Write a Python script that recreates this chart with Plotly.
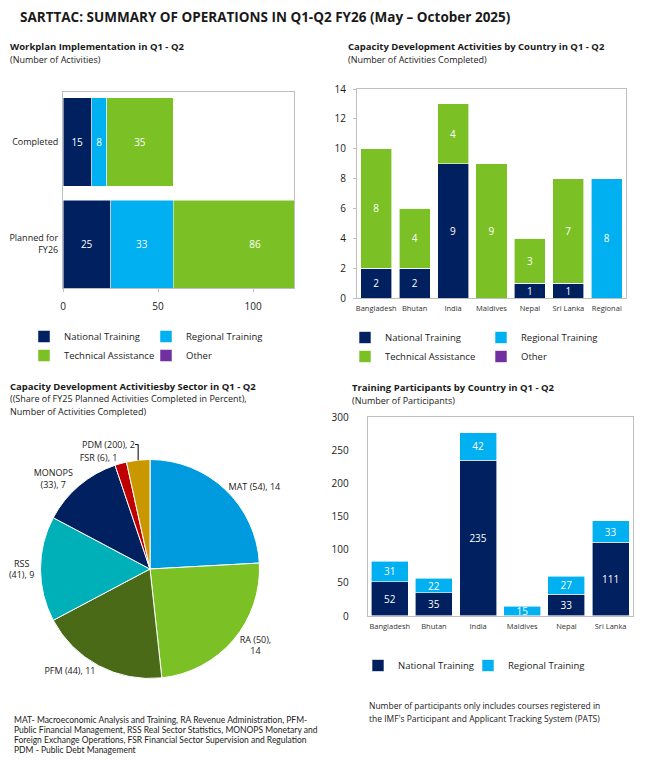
import plotly.graph_objects as go

# the page keeps its 8px body margin; the figure fills the rest of the 654x763 window
OFF = 8
FW, FH = 654 - 2 * OFF, 763 - 2 * OFF
def px(x):
    return (x - OFF) / FW
def py(y):
    return 1 - (y - OFF) / FH

NAVY = "#002060"
LBLUE = "#00B0F0"
GREEN = "#7BC125"
PURPLE = "#7030A0"
FONT = "Open Sans"
TXT = "#1a1a1a"

# ---- Data: Workplan implementation ----
wp_categories = ["Planned for<br>FY26", "Completed"]
wp_national = [25, 15]
wp_regional = [33, 8]
wp_ta = [86, 35]
wp_other = [0, 0]
wp_ticks = [0, 50, 100]

# ---- Data: CD activities by country ----
cd_countries = ["Bangladesh", "Bhutan", "India", "Maldives", "Nepal", "Sri Lanka", "Regional"]
cd_national = [2, 2, 9, 0, 1, 1, 0]
cd_regional = [0, 0, 0, 0, 0, 0, 8]
cd_ta = [8, 4, 4, 9, 3, 7, 0]
cd_other = [0, 0, 0, 0, 0, 0, 0]

# ---- Data: CD activities by sector ----
sec_names = ["MAT", "RA", "PFM", "RSS", "MONOPS", "FSR", "PDM"]
sec_share = [54, 50, 44, 41, 33, 6, 200]
sec_count = [14, 14, 11, 9, 7, 1, 2]
sec_colors = ["#009BDE", "#7BC125", "#4A6A17", "#00B0B9", "#002060", "#C00000", "#C99700"]
sec_sep1 = [" ", " ", " ", "<br>", "<br>", " ", " "]
sec_sep2 = [" ", "<br>", " ", " ", " ", " ", " "]

# ---- Data: Training participants ----
tp_countries = ["Bangladesh", "Bhutan", "India", "Maldives", "Nepal", "Sri Lanka"]
tp_national = [52, 35, 235, 0, 33, 111]
tp_regional = [31, 22, 42, 15, 27, 33]


def lab(vals):
    return [str(v) if v else "" for v in vals]


fig = go.Figure()

# Chart 1: horizontal stacked bars
for name, vals, col, lg, lw in [("National Training", wp_national, NAVY, "legend", 77),
                                ("Regional Training", wp_regional, LBLUE, "legend", 100),
                                ("Technical Assistance", wp_ta, GREEN, "legend2", 77),
                                ("Other", wp_other, PURPLE, "legend2", 60)]:
    fig.add_trace(go.Bar(
        x=vals, y=wp_categories, orientation="h", name=name, legend=lg, legendwidth=lw,
        marker=dict(color=col, line=dict(color="white", width=0.5)),
        width=0.863, text=lab(vals), textposition="inside",
        insidetextanchor="middle", textangle=0, constraintext="none",
        textfont=dict(color="white", size=10, family=FONT),
        xaxis="x", yaxis="y", hoverinfo="skip"))

# Chart 2: vertical stacked bars by country
for name, vals, col, lg, lw in [("National Training", cd_national, NAVY, "legend3", 91),
                                ("Regional Training", cd_regional, LBLUE, "legend3", 100),
                                ("Technical Assistance", cd_ta, GREEN, "legend4", 91),
                                ("Other", cd_other, PURPLE, "legend4", 60)]:
    fig.add_trace(go.Bar(
        x=cd_countries, y=vals, name=name, legend=lg, legendwidth=lw,
        marker=dict(color=col, line=dict(color="white", width=0.6)),
        width=0.81, text=lab(vals), textposition="inside",
        insidetextanchor="middle", textangle=0, constraintext="none",
        textfont=dict(color="white", size=10, family=FONT),
        xaxis="x2", yaxis="y2", hoverinfo="skip"))

# Chart 4: training participants
for name, vals, col, lw in [("National Training", tp_national, NAVY, 65),
                            ("Regional Training", tp_regional, LBLUE, 100)]:
    fig.add_trace(go.Bar(
        x=tp_countries, y=vals, name=name, legend="legend5", legendwidth=lw,
        marker=dict(color=col, line=dict(color="white", width=0.6)),
        width=0.837, text=lab(vals), textposition="inside",
        insidetextanchor="middle", textangle=0, constraintext="none",
        textfont=dict(color="white", size=10, family=FONT),
        xaxis="x3", yaxis="y3", hoverinfo="skip"))

# Chart 3: pie
pie_text = [f"{n}{s1}({sh}),{s2}{c}" for n, s1, sh, s2, c in
            zip(sec_names, sec_sep1, sec_share, sec_sep2, sec_count)]
fig.add_trace(go.Pie(
    labels=sec_names, values=sec_count, text=pie_text, textinfo="text",
    textposition="outside", sort=False, direction="clockwise", rotation=0,
    marker=dict(colors=sec_colors, line=dict(color="white", width=1)),
    outsidetextfont=dict(size=9, color=TXT, family=FONT),
    domain=dict(x=[px(40.5), px(259.5)], y=[py(678.5), py(459.5)]),
    showlegend=False, hoverinfo="skip", automargin=False))

axline = "#BFBFBF"
common = dict(showline=True, mirror=True, linecolor=axline, linewidth=1,
              showgrid=False, zeroline=False, automargin=False)

fig.update_layout(
    width=FW, height=FH, margin=dict(l=0, r=0, t=0, b=0, autoexpand=False),
    paper_bgcolor="white", plot_bgcolor="white",
    barmode="stack", font=dict(family=FONT, color=TXT),
    xaxis=dict(domain=[px(63), px(294)], range=[0, 121.5], anchor="y",
               tickvals=wp_ticks, ticks="outside", ticklen=3, tickcolor=axline,
               tickfont=dict(size=10), ticklabelstandoff=6, **common),
    yaxis=dict(domain=[py(288), py(91.7)], range=[-0.431, 1.493], anchor="x",
               type="category", ticks="", tickfont=dict(size=9),
               ticklabelstandoff=2, **common),
    xaxis2=dict(domain=[px(357), px(626)], range=[-0.5, 6.5], anchor="y2",
                ticks="", tickfont=dict(size=7.5, color="#333"), ticklabelstandoff=3, **common),
    yaxis2=dict(domain=[py(298), py(89)], range=[0, 14], dtick=2, anchor="x2",
                ticks="outside", ticklen=3, tickcolor=axline,
                tickfont=dict(size=10), ticklabelstandoff=5, **common),
    xaxis3=dict(domain=[px(367.7), px(632.7)], range=[-0.5, 5.5], anchor="y3",
                ticks="", tickfont=dict(size=7.5, color="#333"), ticklabelstandoff=3, **common),
    yaxis3=dict(domain=[py(616), py(417.3)], range=[0, 300], dtick=50, anchor="x3",
                ticks="", tickfont=dict(size=10), ticklabelstandoff=16, **common),
)

leg_common = dict(orientation="h", xanchor="left", yanchor="top",
                  font=dict(size=9.5, family=FONT, color=TXT),
                  bgcolor="rgba(0,0,0,0)", itemwidth=30, traceorder="normal")
fig.update_layout(
    legend=dict(x=px(24), y=py(322), **leg_common),
    legend2=dict(x=px(24), y=py(341), **leg_common),
    legend3=dict(x=px(345), y=py(323), **leg_common),
    legend4=dict(x=px(345), y=py(342), **leg_common),
    legend5=dict(x=px(358), y=py(651), **leg_common),
)

def note(x, y, text, size=10, bold=False, family=FONT):
    fig.add_annotation(x=px(x), y=py(y), xref="paper", yref="paper", xanchor="left",
                       yanchor="middle", showarrow=False, align="left",
                       text=f"<b>{text}</b>" if bold else text,
                       font=dict(size=size, family=family, color=TXT))

note(18, 17, "SARTTAC: SUMMARY OF OPERATIONS IN Q1-Q2 FY26 (May – October 2025)", size=13.5, bold=True)
note(8, 47, "Workplan Implementation in Q1 - Q2", size=9.5, bold=True)
note(8, 60, "(Number of Activities)", size=9)
note(346, 47, "Capacity Development Activities by Country in Q1 - Q2", size=9.5, bold=True)
note(346, 60, "(Number of Activities Completed)", size=9)
note(8, 386, "Capacity Development Activitiesby Sector in Q1 - Q2", size=9.5, bold=True)
note(8, 399, "((Share of FY25 Planned Activities Completed in Percent),", size=9)
note(8, 412, "Number of Activities Completed)", size=9)
note(350, 387, "Training Participants by Country in Q1 - Q2", size=9.5, bold=True)
note(350, 400, "(Number of Participants)", size=9)
note(367, 705, "Number of participants only includes courses registered in", size=8.5)
note(367, 718, "the IMF's Participant and Applicant Tracking System (PATS)", size=8.5)
foot = ["MAT- Macroeconomic Analysis and Training, RA Revenue Administration, PFM-",
        "Public Financial Management, RSS Real Sector Statistics, MONOPS Monetary and",
        "Foreign Exchange Operations, FSR Financial Sector Supervision and Regulation",
        "PDM - Public Debt Management"]
for i, t in enumerate(foot):
    note(12, 719.5 + 10 * i, t, size=8.5, family="Lato")

fig.write_html("out.html", config={"displayModeBar": False})
